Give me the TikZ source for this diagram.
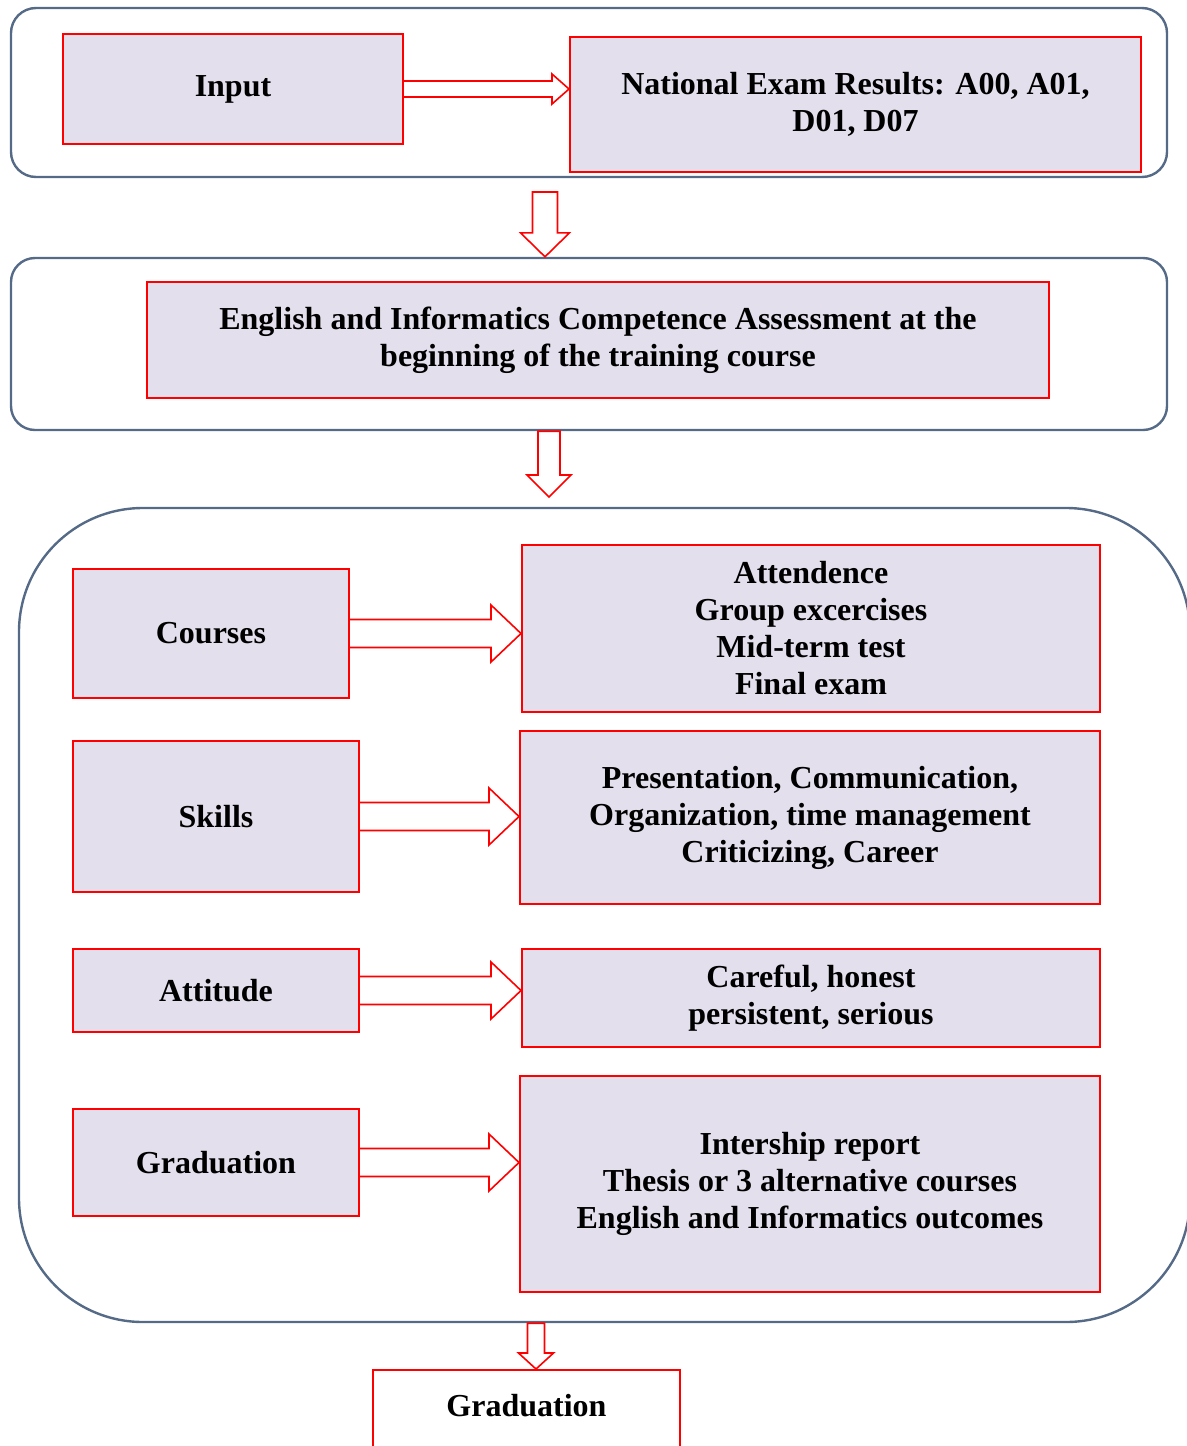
\documentclass[tikz,border=0pt]{standalone}
\usepackage{fontspec}
\setmainfont{Liberation Serif}
\usetikzlibrary{calc}
\definecolor{boxfill}{RGB}{228,223,236}
\definecolor{stageline}{RGB}{84,106,134}

% hollow block arrows: start, tip, half shaft, half head, head length
\newcommand\fatright[5]{%
  \draw[fat] let \p1=(#1), \p2=(#2) in
    (\x1,\y1+#3) -- (\x2-#5,\y1+#3) -- (\x2-#5,\y1+#4) -- (\x2,\y1)
    -- (\x2-#5,\y1-#4) -- (\x2-#5,\y1-#3) -- (\x1,\y1-#3);}
\newcommand\fatdown[5]{%
  \draw[fat] let \p1=(#1), \p2=(#2) in
    (\x1-#3,\y1) -- (\x1-#3,\y2+#5) -- (\x1-#4,\y2+#5) -- (\x1,\y2)
    -- (\x1+#4,\y2+#5) -- (\x1+#3,\y2+#5) -- (\x1+#3,\y1) -- cycle;}

\begin{document}
\begin{tikzpicture}[x=0.5pt, y=-0.5pt,
  box/.style={draw=red, line width=1pt, fill=boxfill, inner sep=0pt, align=center,
    font=\bfseries\fontsize{16}{18.5}\selectfont},
  stage/.style={draw=stageline, line width=1.2pt, inner sep=0pt},
  fat/.style={draw=red, line width=0.8pt, fill=white, line join=miter}]
\useasboundingbox (0,0) rectangle (1187,1446);
% the three stages
\node[stage, rounded corners=12.5pt, minimum width=578pt, minimum height=84.5pt] (stage1) at (589,92.5) {};
\node[stage, rounded corners=12pt, minimum width=578pt, minimum height=86pt] (stage2) at (589,344) {};
\node[stage, rounded corners=62pt, minimum width=585.5pt, minimum height=407pt] (stage3) at (604.5,915) {};
% input
\node[box, minimum width=170pt, minimum height=55pt] (input) at (233,89) {\raisebox{-2pt}{Input}};
\node[box, minimum width=285.5pt, minimum height=67.5pt] (exam) at (855.5,104.5) {National Exam Results: A00, A01,\\D01, D07};
\fatright{input.east}{input.east -| exam.west}{4pt}{7.5pt}{8.5pt}
% assessment
\node[box, minimum width=451pt, minimum height=58pt] (assess) at (598,340) {English and Informatics Competence Assessment at the\\beginning of the training course};
% training
\node[box, minimum width=138pt, minimum height=64.5pt] (courses) at (211,633.5) {Courses};
\node[box, minimum width=289pt, minimum height=83.5pt] (attend) at (811,628.5) {Attendence\\Group excercises\\Mid-term test\\Final exam};
\node[box, minimum width=143pt, minimum height=75.5pt] (skills) at (216,816.5) {Skills};
\node[box, minimum width=290pt, minimum height=86.5pt] (present) at (810,817.5) {Presentation, Communication,\\Organization, time management\\Criticizing, Career};
\node[box, minimum width=143pt, minimum height=41.5pt] (attit) at (216,990.5) {Attitude};
\node[box, minimum width=289pt, minimum height=49pt] (careful) at (811,998) {Careful, honest\\persistent, serious};
\node[box, minimum width=143pt, minimum height=53.5pt] (gradu) at (216,1162.5) {Graduation};
\node[box, minimum width=290pt, minimum height=108pt] (intern) at (810,1184) {Intership report\\Thesis or 3 alternative courses\\English and Informatics outcomes};
\fatright{courses.east}{courses.east -| attend.west}{7pt}{14.25pt}{15pt}
\fatright{skills.east}{skills.east -| present.west}{7pt}{14.25pt}{15pt}
\fatright{attit.east}{attit.east -| careful.west}{7pt}{14.25pt}{15pt}
\fatright{gradu.east}{gradu.east -| intern.west}{7pt}{14.25pt}{15pt}
% output
\node[box, fill=white, anchor=north, minimum width=153.5pt, inner ysep=12pt, text height=11pt, text depth=40pt] (final) at (526.5,1369) {Graduation};
% arrows between stages
\coordinate (a1) at (545,192);
\coordinate (a2) at (549,497);
\coordinate (a3) at (536,1369);
\fatdown{a1}{a1 |- stage2.north}{6.25pt}{12.25pt}{12pt}
\fatdown{a2 |- stage2.south}{a2}{5.5pt}{11pt}{11pt}
\fatdown{a3 |- stage3.south}{a3 |- final.north}{4.25pt}{8.75pt}{8pt}
\end{tikzpicture}
\end{document}
